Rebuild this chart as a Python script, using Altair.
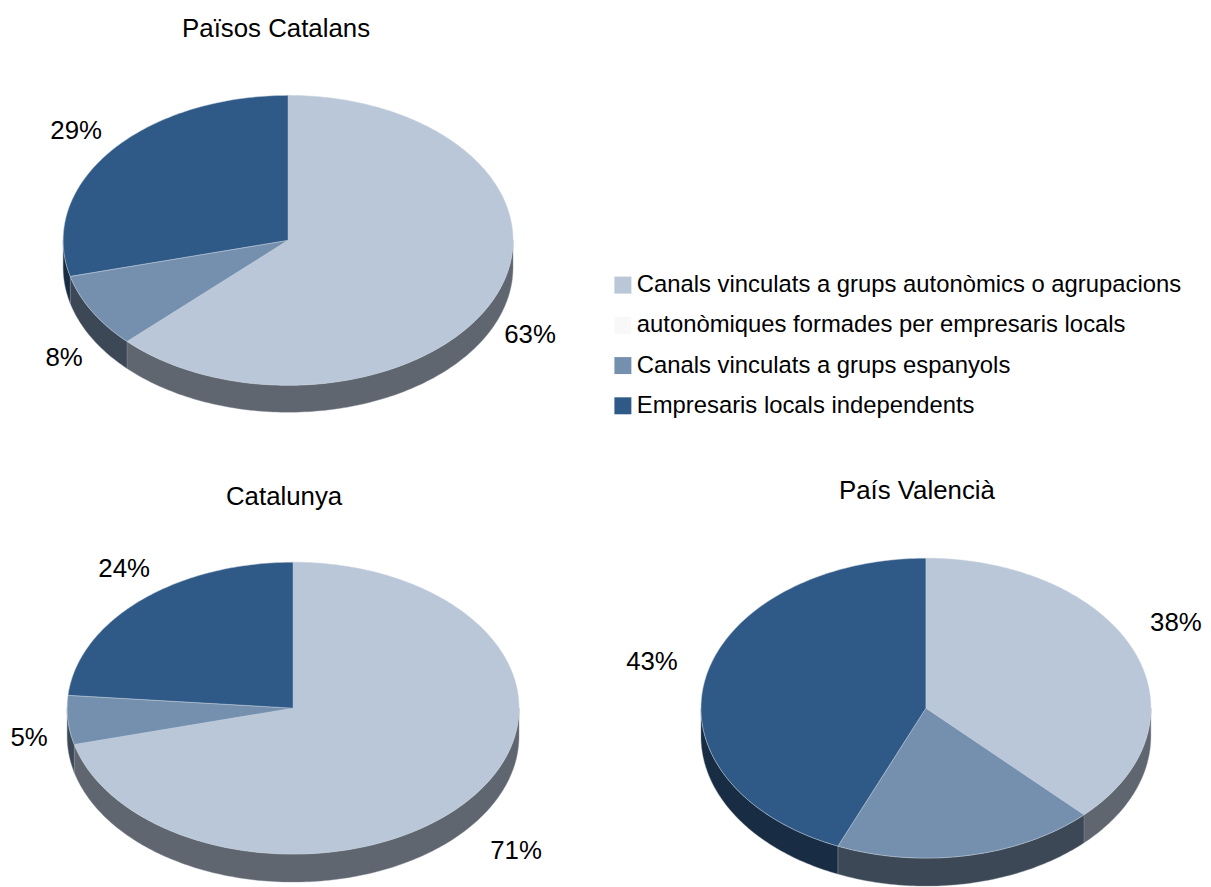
import math
import altair as alt
import pandas as pd

FONT = "Liberation Sans"
categories = [
    "Canals vinculats a grups autonòmics o agrupacions",
    "autonòmiques formades per empresaris locals",
    "Canals vinculats a grups espanyols",
    "Empresaris locals independents",
]
top_colors = ["#b9c7d8", "#f8f8f8", "#7490ae", "#2f5986"]
wall_colors = {categories[0]: "#5f666f", categories[2]: "#3c4856", categories[3]: "#182c43"}

# share of each pie, in reading order of the categories
pies = ["Països Catalans", "Catalunya", "País Valencià"]
pie_values = [
    [62.7, 0, 8.3, 29],
    [71, 0, 5.4, 23.6],
    [37.6, 0, 18.8, 43.6],
]
# ellipse centre, radii and wall depth of each pie, in page pixels
pie_cx = [288, 293, 926]
pie_cy = [240, 708, 708]
pie_rx = [225, 226, 225]
pie_ry = [145, 146, 150]
pie_depth = [27, 28, 28]

title_text = pies
title_x = [276, 284, 917]
title_y = [29, 497, 491]

label_text = ["29%", "8%", "63%", "24%", "5%", "71%", "38%", "43%"]
label_x = [76, 64, 530, 124, 29, 516, 1176, 652]
label_y = [131, 358, 335, 569, 738, 851, 623, 662]

tops, walls = [], []
for p, name in enumerate(pies):
    cx, cy, rx, ry, d = pie_cx[p], pie_cy[p], pie_rx[p], pie_ry[p], pie_depth[p]
    total = sum(pie_values[p])
    start = 0.0
    for c, val in enumerate(pie_values[p]):
        if val == 0:
            continue
        end = start + val / total * 360
        sid = f"{p}-{c}"
        pts = [(cx, cy)]
        n = max(2, int(end - start) + 1)
        for k in range(n + 1):
            t = math.radians(start + (end - start) * k / n)
            pts.append((cx + rx * math.sin(t), cy - ry * math.cos(t)))
        pts.append((cx, cy))
        for i, (x, y) in enumerate(pts):
            tops.append(dict(slice=sid, category=categories[c], i=i, x=x, y=y))
        a, b = max(start, 90), min(end, 270)
        if a < b:
            m = max(2, int(b - a) + 1)
            arc = []
            for k in range(m + 1):
                t = math.radians(a + (b - a) * k / m)
                arc.append((cx + rx * math.sin(t), cy - ry * math.cos(t)))
            poly = arc + [(x, y + d) for x, y in reversed(arc)] + [arc[0]]
            for i, (x, y) in enumerate(poly):
                walls.append(dict(slice=sid, color=wall_colors[categories[c]], i=i, x=x, y=y))
        start = end

W, H = 1203, 885
BX, AX, BY, AY = 0.9936, -0.1, 0.9937, 2.6
X = alt.X("x:Q", axis=None, scale=alt.Scale(domain=[8 * BX + AX, (8 + W) * BX + AX], nice=False, zero=False))
Y = alt.Y("y:Q", axis=None, scale=alt.Scale(domain=[(8 + H) * BY + AY, 8 * BY + AY], nice=False, zero=False))

wall_layer = alt.Chart(pd.DataFrame(walls)).mark_line(stroke="#8a929b", strokeWidth=0.4, interpolate="linear").encode(
    x=X, y=Y, detail="slice:N", order="i:Q", fill=alt.Fill("color:N", scale=None)
)
top_layer = alt.Chart(pd.DataFrame(tops)).mark_line(stroke="#c6d0dc", strokeWidth=0.5, interpolate="linear").encode(
    x=X, y=Y, detail="slice:N", order="i:Q",
    fill=alt.Fill(
        "category:N",
        scale=alt.Scale(domain=categories, range=top_colors),
        sort=categories,
        legend=alt.Legend(
            title=None, orient="none", legendX=607, legendY=264,
            symbolType="square", symbolSize=292, symbolStrokeWidth=0,
            labelFont=FONT, labelFontSize=24, labelColor="#000000", labelLimit=700,
            labelOffset=2, rowPadding=16.5, columnPadding=0, padding=0,
            symbolOpacity=1, symbolOffset=0,
        ),
    ),
)
titles = alt.Chart(pd.DataFrame(dict(t=title_text, x=title_x, y=title_y))).mark_text(
    font=FONT, fontSize=26, color="#000000"
).encode(x=X, y=Y, text="t:N")
labels = alt.Chart(pd.DataFrame(dict(t=label_text, x=label_x, y=label_y))).mark_text(
    font=FONT, fontSize=26, color="#000000"
).encode(x=X, y=Y, text="t:N")

chart = alt.layer(wall_layer, top_layer, titles, labels).properties(
    width=W, height=H, padding=0, background="#ffffff",
    autosize=alt.AutoSizeParams(type="none"),
).configure_view(stroke=None)
chart.save("out.html", embed_options={"renderer": "svg", "actions": False})
